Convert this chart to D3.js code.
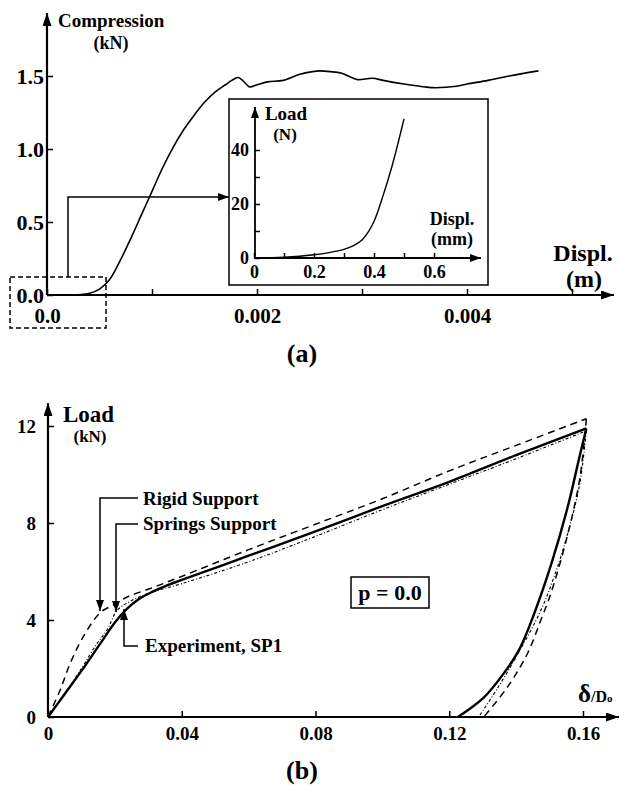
<!DOCTYPE html>
<html>
<head>
<meta charset="utf-8">
<script src="https://cdn.jsdelivr.net/npm/d3@7"></script>
<style>
body { margin: 0; background: #fff; }
text { font-family: "Liberation Serif", "Times New Roman", serif; font-weight: bold; fill: #000; }
</style>
</head>
<body>
<svg id="chart" width="620" height="785"></svg>
<script>
// (a) compression test, displacement in m, load in kN
const compDispl = [0, 0.0002, 0.0003, 0.0004, 0.0005, 0.0006, 0.0007, 0.0008, 0.0009, 0.001, 0.0011, 0.0012, 0.0013, 0.0014, 0.0015, 0.0016, 0.0017, 0.00176, 0.00182, 0.00187, 0.00193, 0.002, 0.0021, 0.00225, 0.0024, 0.00253, 0.0026, 0.0027, 0.0028, 0.0029, 0.00296, 0.0031, 0.0032, 0.0034, 0.0036, 0.0037, 0.0039, 0.004, 0.0042, 0.0044, 0.00468];
const compLoad  = [0, 0, 0.002, 0.01, 0.04, 0.11, 0.24, 0.39, 0.55, 0.71, 0.87, 1.01, 1.13, 1.23, 1.32, 1.39, 1.44, 1.47, 1.49, 1.465, 1.425, 1.44, 1.46, 1.47, 1.51, 1.53, 1.535, 1.53, 1.52, 1.49, 1.475, 1.485, 1.47, 1.445, 1.425, 1.42, 1.43, 1.445, 1.47, 1.5, 1.535];
const aXTicks  = [0, 0.001, 0.002, 0.003, 0.004, 0.005];
const aXLabels = ["0.0", "", "0.002", "", "0.004", ""];
const aYTicks  = [0, 0.5, 1.0, 1.5];

// (a) inset, displacement in mm, load in N
const insetDispl = [0, 0.1, 0.2, 0.25, 0.3, 0.33, 0.36, 0.38, 0.4, 0.43, 0.46, 0.48, 0.5];
const insetLoad  = [0, 0.3, 1.2, 2, 3.2, 4.5, 6.7, 9.5, 13.5, 23, 34, 42.5, 51.5];
const inXTicks  = [0, 0.1, 0.2, 0.3, 0.4, 0.5, 0.6];
const inXLabels = ["0", "", "0.2", "", "0.4", "", "0.6"];
const inYTicks  = [0, 10, 20, 30, 40];
const inYLabels = ["0", "", "20", "", "40"];

// (b) load vs delta/Do
const expDelta = [0, 0.005, 0.01, 0.015, 0.02, 0.0235, 0.027, 0.031, 0.036, 0.04, 0.06, 0.08, 0.1, 0.12, 0.14, 0.161, 0.1589, 0.1555, 0.1505, 0.1455, 0.141, 0.1363, 0.1303, 0.1226];
const expLoad  = [0, 0.95, 1.9, 2.9, 3.9, 4.45, 4.85, 5.15, 5.45, 5.65, 6.65, 7.65, 8.7, 9.7, 10.8, 11.9, 10.7, 8.7, 6.3, 4.3, 2.8, 1.8, 0.8, 0];
const rigidDelta = [0, 0.0036, 0.0066, 0.0105, 0.0156, 0.02, 0.0237, 0.0306, 0.04, 0.06, 0.08, 0.1, 0.12, 0.14, 0.161, 0.159, 0.155, 0.1504, 0.1474, 0.1435, 0.1375, 0.1303];
const rigidLoad  = [0, 1.1, 2.2, 3.3, 4.3, 4.65, 4.95, 5.3, 5.8, 6.9, 7.95, 9.0, 10.15, 11.2, 12.3, 9.8, 7.3, 5.1, 4.0, 2.65, 1.25, 0];
const springDelta = [0, 0.005, 0.01, 0.0145, 0.0177, 0.0207, 0.025, 0.03, 0.04, 0.06, 0.08, 0.1, 0.12, 0.14, 0.161, 0.159, 0.1555, 0.1514, 0.1474, 0.1405, 0.1345, 0.1288];
const springLoad  = [0, 0.95, 2.0, 3.0, 3.6, 4.4, 4.8, 5.1, 5.5, 6.4, 7.45, 8.55, 9.6, 10.65, 11.8, 9.6, 7.6, 5.8, 4.4, 2.6, 1.2, 0];
const bXTicks  = [0, 0.04, 0.08, 0.12, 0.16];
const bXLabels = ["0", "0.04", "0.08", "0.12", "0.16"];
const bYTicks  = [0, 4, 8, 12];

const svg = d3.select("#chart");

const defs = svg.append("defs");
function marker(id, w, h) {
    defs.append("marker")
        .attr("id", id)
        .attr("viewBox", `0 0 ${w} ${h}`)
        .attr("refX", w).attr("refY", h / 2)
        .attr("markerWidth", w).attr("markerHeight", h)
        .attr("markerUnits", "userSpaceOnUse")
        .attr("orient", "auto")
        .append("path")
        .attr("d", `M0,0L${w},${h / 2}L0,${h}z`)
        .attr("fill", "#000");
}
marker("arrBig", 13, 9);
marker("arrSmall", 11, 8);

function axisLine(pts, w, m) {
    svg.append("path")
        .attr("d", d3.line()(pts))
        .attr("fill", "none")
        .attr("stroke", "#000")
        .attr("stroke-width", w)
        .attr("marker-end", `url(#${m})`);
}

function styleAxis(g, size) {
    g.select(".domain").remove();
    g.attr("font-size", size);
    g.selectAll(".tick line").attr("stroke-width", 1.5);
}

function label(x, y, str, size, anchor) {
    return svg.append("text")
        .attr("x", x).attr("y", y)
        .attr("font-size", size)
        .attr("text-anchor", anchor || "start")
        .text(str);
}

// ---------- panel (a) ----------
const xa = d3.scaleLinear().domain([0, 0.005]).range([47, 572]);
const ya = d3.scaleLinear().domain([0, 1.5]).range([295, 76]);

svg.append("g")
    .attr("transform", "translate(0,295)")
    .call(d3.axisBottom(xa).tickValues(aXTicks).tickSize(-6).tickPadding(13)
        .tickFormat((d, i) => aXLabels[i]))
    .call(g => styleAxis(g, 21));

svg.append("g")
    .attr("transform", "translate(47,0)")
    .call(d3.axisLeft(ya).tickValues(aYTicks).tickSize(-6).tickPadding(3)
        .tickFormat(d3.format(".1f")))
    .call(g => styleAxis(g, 22));

axisLine([[47, 295], [614, 295]], 2.2, "arrBig");
axisLine([[47, 295], [47, 13]], 2.2, "arrBig");

const lineA = d3.line()
    .x((d, i) => xa(compDispl[i]))
    .y(d => ya(d))
    .curve(d3.curveCatmullRom.alpha(0.5));

svg.append("path")
    .attr("d", lineA(compLoad))
    .attr("fill", "none")
    .attr("stroke", "#000")
    .attr("stroke-width", 1.6);

label(58, 27, "Compression", 19);
label(111, 49, "(kN)", 18, "middle");
label(583, 261, "Displ.", 24, "middle");
label(584, 287, "(m)", 24, "middle");

// zoom box and pointer
svg.append("rect")
    .attr("x", 10).attr("y", 277).attr("width", 96).attr("height", 51)
    .attr("fill", "none").attr("stroke", "#000")
    .attr("stroke-width", 1.5).attr("stroke-dasharray", "5,3");
axisLine([[68, 277], [68, 197], [229, 197]], 1.5, "arrSmall");

// inset
svg.append("rect")
    .attr("x", 229).attr("y", 99).attr("width", 259).attr("height", 186)
    .attr("fill", "#fff").attr("stroke", "#000").attr("stroke-width", 1.5);

const xi = d3.scaleLinear().domain([0, 0.7]).range([254, 464]);
const yi = d3.scaleLinear().domain([0, 40]).range([258, 150]);

svg.append("g")
    .attr("transform", "translate(0,258)")
    .call(d3.axisBottom(xi).tickValues(inXTicks).tickSize(-5).tickPadding(7)
        .tickFormat((d, i) => inXLabels[i]))
    .call(g => styleAxis(g, 18));

svg.append("g")
    .attr("transform", "translate(255,0)")
    .call(d3.axisLeft(yi).tickValues(inYTicks).tickSize(-5).tickPadding(6)
        .tickFormat((d, i) => inYLabels[i]))
    .call(g => styleAxis(g, 18));

axisLine([[254, 258], [481, 258]], 1.8, "arrSmall");
axisLine([[255, 258], [255, 107]], 1.8, "arrSmall");

const lineIn = d3.line()
    .x((d, i) => xi(insetDispl[i]))
    .y(d => yi(d))
    .curve(d3.curveCatmullRom.alpha(0.5));

svg.append("path")
    .attr("d", lineIn(insetLoad))
    .attr("fill", "none")
    .attr("stroke", "#000")
    .attr("stroke-width", 1.4);

label(286, 120, "Load", 19, "middle");
label(285, 140, "(N)", 17, "middle");
label(452, 225, "Displ.", 18, "middle");
label(452, 245, "(mm)", 18, "middle");

label(302, 362, "(a)", 26, "middle");

// ---------- panel (b) ----------
const xb = d3.scaleLinear().domain([0, 0.16]).range([48, 583]);
const yb = d3.scaleLinear().domain([0, 12]).range([717, 426]);

svg.append("g")
    .attr("transform", "translate(0,717)")
    .call(d3.axisBottom(xb).tickValues(bXTicks).tickSize(-6).tickPadding(10)
        .tickFormat((d, i) => bXLabels[i]))
    .call(g => styleAxis(g, 19));

svg.append("g")
    .attr("transform", "translate(48,0)")
    .call(d3.axisLeft(yb).tickValues(bYTicks).tickSize(-6).tickPadding(12))
    .call(g => styleAxis(g, 19));

axisLine([[48, 717], [619, 717]], 2.2, "arrBig");
axisLine([[48, 717], [48, 403]], 2.2, "arrBig");

// loading and unloading branches are drawn separately so the peak stays sharp
function drawLoop(xs, ys, w, dash) {
    const k = xs.indexOf(d3.max(xs));
    const gen = d3.line()
        .x(d => xb(d[0]))
        .y(d => yb(d[1]))
        .curve(d3.curveCatmullRom.alpha(0.5));
    const pts = xs.map((x, i) => [x, ys[i]]);
    [pts.slice(0, k + 1), pts.slice(k)].forEach(seg => {
        svg.append("path")
            .attr("d", gen(seg))
            .attr("fill", "none").attr("stroke", "#000")
            .attr("stroke-width", w)
            .attr("stroke-dasharray", dash);
    });
}

drawLoop(rigidDelta, rigidLoad, 1.5, "7,5");
drawLoop(springDelta, springLoad, 1.1, "3,2,1,2");
drawLoop(expDelta, expLoad, 2.4, null);

label(63, 422, "Load", 23);
label(90, 442, "(kN)", 17, "middle");

const dl = label(578, 702, "δ", 25);
dl.append("tspan").attr("font-size", 16).text("/D");
dl.append("tspan").attr("font-size", 11).text("o");

// annotations
axisLine([[138, 498], [100, 498], [100, 611]], 1.5, "arrSmall");
axisLine([[138, 524], [116, 524], [116, 612]], 1.5, "arrSmall");
axisLine([[138, 646], [124, 646], [124, 609]], 1.5, "arrSmall");
label(143, 505, "Rigid Support", 19);
label(143, 530, "Springs Support", 19);
label(145, 652, "Experiment, SP1", 19);

svg.append("rect")
    .attr("x", 351).attr("y", 577).attr("width", 78).attr("height", 31)
    .attr("fill", "none").attr("stroke", "#000").attr("stroke-width", 1.5);
label(390, 600, "p = 0.0", 22, "middle");

label(302, 779, "(b)", 26, "middle");
</script>
</body>
</html>
